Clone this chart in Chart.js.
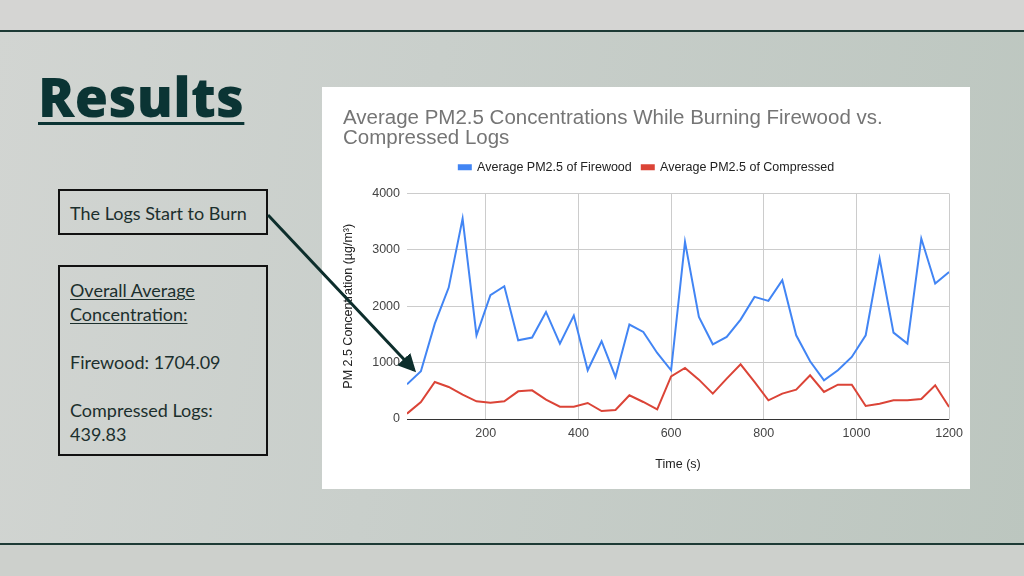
<!DOCTYPE html>
<html>
<head>
<meta charset="utf-8">
<script src="https://cdn.jsdelivr.net/npm/chart.js@4"></script>
<style>
  html, body { margin: 0; padding: 0; }
  body {
    width: 1024px; height: 576px; overflow: hidden; position: relative;
    background: linear-gradient(100deg, #d2d5d2 0%, #c9cfcb 40%, #bcc6bf 100%);
    font-family: "Lato", "Noto Sans", sans-serif;
  }
  .band { position: absolute; left: 0; width: 1024px; background: #d5d5d3; }
  .band.top { top: 0; height: 30px; border-bottom: 2px solid #1d3a35; }
  .band.bottom { top: 543px; height: 33px; border-top: 2px solid #1d3a35; background: #cdd0cc; }
  h1 {
    position: absolute; left: 38px; top: 60px; margin: 0;
    font-family: "Open Sans", sans-serif; font-weight: 800; font-size: 54px; line-height: 72px;
    color: #0b3434; text-decoration: underline; text-decoration-thickness: 3px;
    text-underline-offset: 5px; letter-spacing: 0.3px;
  }
  .box {
    position: absolute; left: 58px; border: 2px solid #111;
    color: #1c2f2d; font-size: 18px; font-weight: 400;
  }
  .box1 { top: 189px; width: 196px; height: 42px; line-height: 44px; padding-left: 10px; }
  .box2 { top: 265px; width: 210px; height: 191px; box-sizing: border-box; padding: 11px 0 0 10px; line-height: 24px; }
  .box2 u { text-decoration-thickness: 1px; text-underline-offset: 2px; }
  .panel {
    position: absolute; left: 322px; top: 87px; width: 648px; height: 402px; background: #fff;
  }
  svg { position: absolute; left: 0; top: 0; }
</style>
</head>
<body>
<div class="band top"></div>
<div class="band bottom"></div>
<h1>Results</h1>
<div class="box box1">The Logs Start to Burn</div>
<div class="box box2"><u>Overall Average<br>Concentration:</u><br><br>Firewood: 1704.09<br><br>Compressed Logs:<br>439.83</div>
<div class="panel"><canvas id="chart" width="648" height="402"></canvas></div>
<svg width="1024" height="576">
  <defs>
    <marker id="head" markerWidth="6" markerHeight="6" refX="5" refY="3" orient="auto" markerUnits="strokeWidth">
      <path d="M0,0 L6,3 L0,6 z" fill="#0d2e2c"/>
    </marker>
  </defs>
  <line x1="268" y1="215" x2="414" y2="370" stroke="#0d2e2c" stroke-width="3" marker-end="url(#head)"/>
</svg>
<script>
// Time in seconds, one reading every 30 s
const times = [30, 60, 90, 120, 150, 180, 210, 240, 270, 300,
  330, 360, 390, 420, 450, 480, 510, 540, 570, 600,
  630, 660, 690, 720, 750, 780, 810, 840, 870, 900,
  930, 960, 990, 1020, 1050, 1080, 1110, 1140, 1170, 1200]

// Average PM2.5 of Firewood
const firewood = [615, 846, 1692, 2331, 3556, 1485, 2195, 2355, 1396, 1444,
  1899, 1337, 1834, 864, 1379, 746, 1675, 1544, 1172, 864,
  3142, 1811, 1325, 1456, 1763, 2166, 2095, 2462, 1485, 1024,
  686, 864, 1101, 1485, 2846, 1533, 1337, 3201, 2402, 2609]

// Average PM2.5 of Compressed logs
const compressed = [95, 302, 657, 568, 432, 314, 290, 314, 491, 509,
  343, 219, 219, 284, 142, 160, 420, 302, 172, 757,
  905, 698, 450, 716, 970, 657, 331, 450, 521, 775,
  479, 609, 609, 231, 272, 331, 331, 355, 598, 213]

const xTicks = [200, 400, 600, 800, 1000, 1200]
const yTicks = [0, 1000, 2000, 3000, 4000]

const toPoints = values => values.map((v, i) => ({ x: times[i], y: v }))

const font = size => ({ family: 'Liberation Sans, Arial, sans-serif', size: size })

// Leave some room under the legend, like the Sheets chart does
const legendGap = {
  id: 'legendGap',
  beforeInit(chart) {
    const fit = chart.legend.fit
    chart.legend.fit = function () {
      fit.call(this)
      this.height += 10
    }
  }
}

const ctx = document.getElementById('chart').getContext('2d')

new Chart(ctx, {
  type: 'line',
  data: {
    datasets: [
      {
        label: 'Average PM2.5 of Firewood',
        data: toPoints(firewood),
        borderColor: '#4285f4',
        backgroundColor: '#4285f4',
        borderWidth: 2,
        pointRadius: 0,
        tension: 0
      },
      {
        label: 'Average PM2.5 of Compressed',
        data: toPoints(compressed),
        borderColor: '#db4437',
        backgroundColor: '#db4437',
        borderWidth: 2,
        pointRadius: 0,
        tension: 0
      }
    ]
  },
  plugins: [legendGap],
  options: {
    responsive: false,
    animation: false,
    layout: { padding: { left: 21, right: 20, top: 21, bottom: 17 } },
    plugins: {
      title: {
        display: true,
        text: ['Average PM2.5 Concentrations While Burning Firewood vs.', 'Compressed Logs'],
        align: 'start',
        color: '#757575',
        font: { ...font(20.5), weight: 'normal', lineHeight: 1.0 },
        padding: { top: 0, bottom: 2 }
      },
      legend: {
        labels: {
          boxWidth: 12,
          boxHeight: 4,
          color: '#222',
          font: font(12.5),
          padding: 10
        }
      },
      tooltip: { enabled: false }
    },
    scales: {
      x: {
        type: 'linear',
        min: 30,
        max: 1200,
        afterBuildTicks: axis => { axis.ticks = xTicks.map(v => ({ value: v })) },
        grid: { color: '#cccccc', drawTicks: false },
        border: { display: false },
        ticks: {
          color: '#444',
          padding: 7,
          maxRotation: 0,
          font: font(12.5),
          callback: v => String(v)
        },
        title: {
          display: true,
          text: 'Time (s)',
          color: '#222',
          font: font(12.5),
          padding: { top: 9, bottom: 0 }
        }
      },
      y: {
        min: 0,
        max: 4000,
        afterBuildTicks: axis => { axis.ticks = yTicks.map(v => ({ value: v })) },
        afterFit: axis => { axis.width = 64 },
        grid: {
          color: c => c.tick && c.tick.value === 0 ? '#333333' : '#cccccc',
          drawTicks: false
        },
        border: { display: false },
        ticks: {
          color: '#444',
          padding: 7,
          font: font(12.5),
          callback: v => String(v)
        },
        title: {
          display: true,
          text: 'PM 2.5 Concentration (µg/m³)',
          color: '#222',
          font: font(12.5),
          padding: { top: -2, bottom: 0 }
        }
      }
    }
  }
})
</script>
</body>
</html>
